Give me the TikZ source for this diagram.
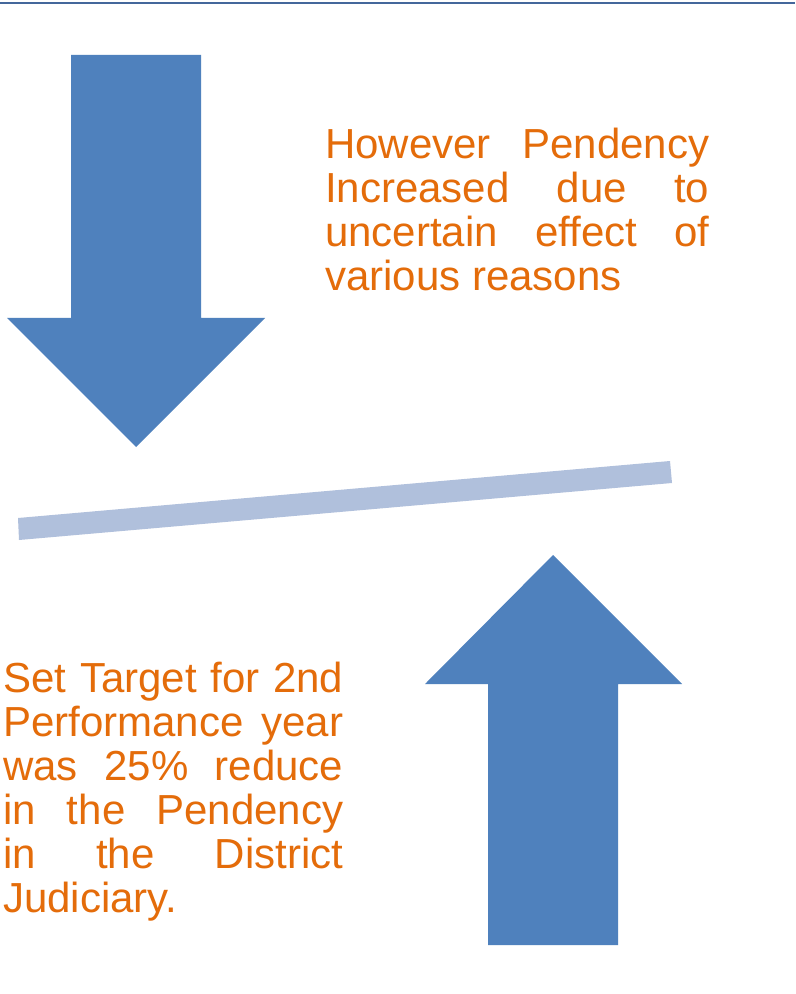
\documentclass[tikz,border=0pt]{standalone}
\usepackage{fontspec}
\setmainfont{Liberation Sans}
\definecolor{arrowblue}{HTML}{4F81BD}
\definecolor{barblue}{HTML}{B0C0DC}
\definecolor{topblue}{HTML}{44679B}
\definecolor{txtorange}{HTML}{E46C0A}
\tikzset{
  bigarrow/.style={fill=arrowblue},
  balancebar/.style={fill=barblue},
  topline/.style={draw=topblue,line width=1.6pt},
  para/.style={inner sep=0pt,anchor=north west,align=justify,text=txtorange}
}
\begin{document}
\begin{tikzpicture}[x=0.75pt,y=-0.75pt]
\useasboundingbox (0,0) rectangle (795,994);
\fill[white] (0,0) rectangle (795,994);
\draw[topline] (0,3) -- (795,3);
% down arrow
\fill[bigarrow] (71,55) -- (201,55) -- (201,318) -- (265,318) -- (136,447) -- (7,318) -- (71,318) -- cycle;
% up arrow
\fill[bigarrow] (488,945) -- (618,945) -- (618,684) -- (682,684) -- (553,555) -- (425,684) -- (488,684) -- cycle;
% tilted bar
\fill[balancebar] (18,518) -- (670,461) -- (672,483) -- (19,540) -- cycle;
% texts
\node[para,text width=288pt,font=\fontsize{31.5}{33}\selectfont] (t1) at (325,128) {However Pendency\linebreak Increased due to\linebreak uncertain effect of\linebreak various reasons\par};
\node[para,text width=255pt,font=\fontsize{31.5}{33}\selectfont] (t2) at (3,662) {Set Target for 2nd\linebreak Performance year\linebreak was 25\% reduce\linebreak in the Pendency\linebreak in the District\linebreak Judiciary.\par};
\end{tikzpicture}
\end{document}
